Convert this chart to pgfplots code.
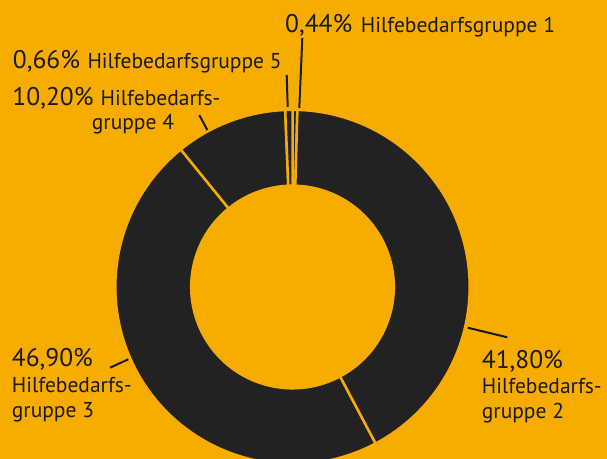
\documentclass[border=0pt]{standalone}
\usepackage{pgfplots}
\pgfplotsset{compat=1.18}
\usepackage{pgfplotstable}
\usepackage{fontspec}
\setmainfont{PT Sans}
\definecolor{bgorange}{HTML}{F7AC00}
\definecolor{ringdark}{HTML}{222222}
\definecolor{txt}{HTML}{1A1A1A}

% share of each Hilfebedarfsgruppe, clockwise from the top
\pgfplotstableread{
group value
1 0.44
2 41.80
3 46.90
4 10.20
5 0.66
}\piedata

\newcommand{\pct}{\fontsize{25.5bp}{30bp}\selectfont}
\newcommand{\lab}{\fontsize{21.5bp}{26bp}\selectfont}

\begin{document}
\begin{tikzpicture}
\begin{axis}[x=1bp, y=1bp, xmin=0, xmax=607, ymin=0, ymax=459,
  hide axis, scale only axis, clip=true]
\fill[bgorange] (axis cs:0,0) rectangle (axis cs:607,459);
\pgfmathsetmacro{\cum}{0}
\pgfplotsforeachungrouped \i in {0,...,4}{
  \pgfplotstablegetelem{\i}{value}\of\piedata
  \pgfmathsetmacro{\sa}{90-3.6*\cum}
  \pgfmathsetmacro{\ea}{\sa-3.6*\pgfplotsretval}
  \pgfmathsetmacro{\xo}{292.5+177.2*cos(\sa)}
  \pgfmathsetmacro{\yo}{172+177.2*sin(\sa)}
  \pgfmathsetmacro{\xi}{292.5+101.3*cos(\ea)}
  \pgfmathsetmacro{\yi}{172+101.3*sin(\ea)}
  \edef\mywedge{\noexpand\filldraw[fill=ringdark, draw=bgorange, line width=2.5bp, line join=round]
    (axis cs:\xo,\yo) arc[start angle=\sa, end angle=\ea, radius=177.2bp]
    -- (axis cs:\xi,\yi) arc[start angle=\ea, end angle=\sa, radius=101.3bp] -- cycle;}
  \mywedge
  \pgfmathsetmacro{\cum}{\cum+\pgfplotsretval}
}

% leader lines
\draw[txt, line width=2bp] (axis cs:302.3,421) -- (axis cs:299.3,351);
\draw[txt, line width=2bp] (axis cs:286.7,384) -- (axis cs:287.7,352);
\draw[txt, line width=2bp] (axis cs:199.3,344) -- (axis cs:207.3,329);
\draw[txt, line width=2bp] (axis cs:110,91.3) -- (axis cs:128.3,99.7);
\draw[txt, line width=2bp] (axis cs:467.7,131.3) -- (axis cs:507.3,121.7);

\begin{scope}[every node/.style={anchor=base west, inner sep=0pt, text=txt}]
\node at (axis cs:285,426.7) {\pct 0,44\%};
\node at (axis cs:360.7,426.7) {\lab Hilfebedarfsgruppe 1};
\node at (axis cs:12.7,390.7) {\pct 0,66\%};
\node at (axis cs:87.3,390.7) {\lab Hilfebedarfsgruppe 5};
\node at (axis cs:12.3,353.3) {\pct 10,20\%};
\node at (axis cs:100.5,353.3) {\lab Hilfebedarfs-};
\node at (axis cs:91.7,329) {\lab gruppe 4};
\node at (axis cs:11.7,92.3) {\pct 46,90\%};
\node at (axis cs:11.7,66.3) {\lab Hilfebedarfs-};
\node at (axis cs:11.7,41.7) {\lab gruppe 3};
\node at (axis cs:481.7,90.7) {\pct 41,80\%};
\node at (axis cs:481.7,65) {\lab Hilfebedarfs-};
\node at (axis cs:481.7,40) {\lab gruppe 2};
\end{scope}
\end{axis}
\end{tikzpicture}
\end{document}
